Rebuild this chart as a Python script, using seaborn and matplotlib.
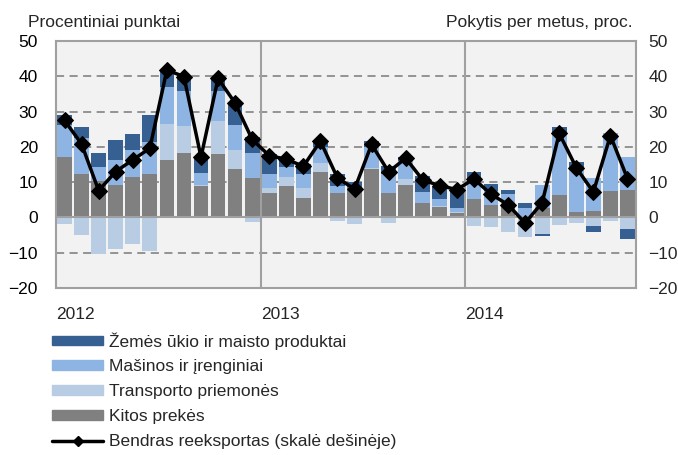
import matplotlib
matplotlib.use("Agg")
import matplotlib.pyplot as plt
import seaborn as sns
import numpy as np
import pandas as pd
from matplotlib.patches import Patch
from matplotlib.lines import Line2D

# monthly data, 2012-01 .. 2014-10
years = ["2012", "2013", "2014"]
kitos = [17.0, 12.4, 10.4, 9.2, 11.5, 12.4, 16.3, 18.3, 8.8, 17.9, 13.8, 11.3,
         6.8, 9.0, 5.4, 13.0, 6.9, 8.5, 13.7, 6.9, 9.2, 4.2, 2.9, 1.2,
         5.2, 3.4, 3.0, 0.3, 2.6, 6.4, 1.4, 1.9, 7.4, 7.9]
transportas = [-1.8, -5.1, -10.4, -9.0, -7.5, -9.6, 10.2, 7.7, 0.3, 9.3, 5.2, -1.3,
               1.6, 2.5, 3.0, 2.5, -1.1, -2.0, 0.3, -1.6, 1.6, 0.0, 0.2, 0.3,
               -2.4, -2.8, -4.2, -5.6, -4.6, -2.1, -1.6, -2.5, -1.1, -3.2]
masinos = [9.2, 10.1, 3.8, 7.1, 7.7, 9.0, 10.6, 9.7, 3.4, 8.5, 7.2, 6.9,
           4.0, 2.7, 4.0, 4.6, 1.9, 0.0, 6.0, 5.5, 5.2, 2.9, 2.1, 1.3,
           5.6, 4.0, 3.7, 2.3, 6.6, 17.8, 12.9, 9.3, 16.5, 9.2]
zemes_ukis = [2.9, 3.1, 4.0, 5.7, 4.4, 7.5, 4.7, 4.2, 4.8, 3.7, 6.2, 4.7,
              5.5, 2.1, 2.6, 1.9, 3.5, 1.5, 1.7, 2.1, 1.0, 4.5, 3.4, 5.5,
              2.2, 2.0, 1.2, 1.4, -0.6, 1.3, 1.4, -1.7, 0.0, -3.0]
bendras = [27.5, 20.8, 7.6, 13.0, 16.3, 19.6, 41.8, 39.9, 17.1, 39.4, 32.4, 22.1,
           17.5, 16.5, 14.5, 21.6, 11.2, 8.0, 20.7, 12.9, 16.8, 10.6, 9.0, 7.9,
           10.9, 6.6, 3.6, -1.6, 4.2, 23.8, 14.1, 7.2, 23.2, 11.0]

labels = ["Žemės ūkio ir maisto produktai", "Mašinos ir įrenginiai",
          "Transporto priemonės", "Kitos prekės",
          "Bendras reeksportas (skalė dešinėje)"]
colors = {"kitos": "#808080", "transportas": "#B8CCE4",
          "masinos": "#8DB4E2", "zemes": "#366092"}

df = pd.DataFrame({"kitos": kitos, "transportas": transportas,
                   "masinos": masinos, "zemes": zemes_ukis, "bendras": bendras})
df["m"] = np.arange(len(df))

sns.set_theme(style="white")
plt.rcParams["font.family"] = ["Liberation Sans", "DejaVu Sans"]
plt.rcParams["font.size"] = 12.5

fig = plt.figure(figsize=(6.78, 4.55), dpi=100)
ax = fig.add_axes([56 / 678, 1 - 288 / 455, 580 / 678, 247 / 455])
ax.set_facecolor("#F2F2F2")

# stacked bars, positives up from zero, negatives down from zero
pos_bottom = np.zeros(len(df))
neg_bottom = np.zeros(len(df))
for col in ["kitos", "transportas", "masinos", "zemes"]:
    vals = df[col].to_numpy()
    bottoms = np.where(vals >= 0, pos_bottom, neg_bottom)
    ax.bar(df["m"], vals, bottom=bottoms, width=0.86, color=colors[col],
           linewidth=0, zorder=2)
    pos_bottom += np.clip(vals, 0, None)
    neg_bottom += np.clip(vals, None, 0)

ax.set_xlim(-0.5, len(df) - 0.5)
ax.set_ylim(-20, 50)
ax.set_yticks(range(-20, 51, 10))
for v in [-10, 10, 20, 30, 40]:
    ax.axhline(v, color="#8C8C8C", lw=1.3, ls=(0, (4.5, 3)), zorder=1)
ax.axhline(0, color="#A0A0A0", lw=1.5, zorder=3)
for xv in [11.5, 23.5]:
    ax.axvline(xv, color="#A0A0A0", lw=1.5, zorder=1)
ax.set_xticks([])
ax.tick_params(axis="y", length=0, pad=13, labelsize=12.5, labelcolor="black")
for s in ax.spines.values():
    s.set_color("#A0A0A0")
    s.set_linewidth(1.5)

for i, yr in enumerate(years):
    ax.text(i * 12 - 0.5, -27.4, yr, ha="left", va="center", fontsize=12.5)

ax2 = ax.twinx()
sns.lineplot(data=df, x="m", y="bendras", ax=ax2, color="black", lw=2.5,
             marker="D", markersize=8, markeredgecolor="black", zorder=5)
ax2.set_ylim(-20, 50)
ax2.set_yticks(range(-20, 51, 10))
ax2.set_xlim(-0.5, len(df) - 0.5)
ax2.set_xlabel("")
ax2.set_ylabel("")
ax2.tick_params(axis="y", length=0, pad=9, labelsize=12.5)
for s in ax2.spines.values():
    s.set_visible(False)

fig.text(28 / 678, 1 - 23 / 455, "Procentiniai punktai", ha="left", va="center", fontsize=12.5)
fig.text(633 / 678, 1 - 22 / 455, "Pokytis per metus, proc.", ha="right", va="center", fontsize=12.5)

handles = [Patch(color=colors["zemes"]), Patch(color=colors["masinos"]),
           Patch(color=colors["transportas"]), Patch(color=colors["kitos"]),
           Line2D([], [], color="black", lw=2.5, marker="D", markersize=5)]
fig.legend(handles, labels, loc="upper left", bbox_to_anchor=(52 / 678, 1 - 332 / 455),
           frameon=False, borderpad=0, borderaxespad=0, handlelength=2.95,
           handleheight=0.46, handletextpad=0.35, labelspacing=0.57, fontsize=12.5)

fig.savefig("out.png", dpi=100, facecolor="white")
